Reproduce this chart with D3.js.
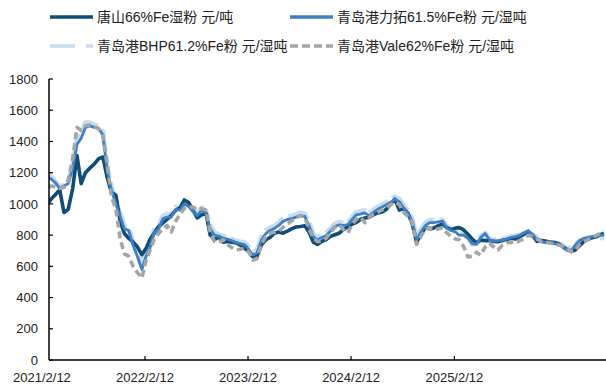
<!DOCTYPE html>
<html>
<head>
<meta charset="utf-8">
<script src="https://cdn.jsdelivr.net/npm/d3@7"></script>
<style>
  body { margin: 0; background: #fff; }
  text { font-family: "Liberation Sans", "Noto Sans CJK SC", sans-serif; }
</style>
</head>
<body>
<div class="chart"></div>
<script>
// semi-monthly observation dates
const dates = [
  "2021-03-09","2021-03-16","2021-04-01","2021-04-16","2021-05-01","2021-05-16","2021-06-01","2021-06-16",
  "2021-07-01","2021-07-16","2021-08-01","2021-08-16","2021-09-01","2021-09-16","2021-10-01","2021-10-16",
  "2021-11-01","2021-11-16","2021-12-01","2021-12-16",
  "2022-01-01","2022-01-16","2022-02-01","2022-02-16","2022-03-01","2022-03-16","2022-04-01","2022-04-16",
  "2022-05-01","2022-05-16","2022-06-01","2022-06-16","2022-07-01","2022-07-16","2022-08-01","2022-08-16",
  "2022-09-01","2022-09-16","2022-10-01","2022-10-16","2022-11-01","2022-11-16","2022-12-01","2022-12-16",
  "2023-01-01","2023-01-16","2023-02-01","2023-02-16","2023-03-01","2023-03-16","2023-04-01","2023-04-16",
  "2023-05-01","2023-05-16","2023-06-01","2023-06-16","2023-07-01","2023-07-16","2023-08-01","2023-08-16",
  "2023-09-01","2023-09-16","2023-10-01","2023-10-16","2023-11-01","2023-11-16","2023-12-01","2023-12-16",
  "2024-01-01","2024-01-16","2024-02-01","2024-02-16","2024-03-01","2024-03-16","2024-04-01","2024-04-16",
  "2024-05-01","2024-05-16","2024-06-01","2024-06-16","2024-07-01","2024-07-16","2024-08-01","2024-08-16",
  "2024-09-01","2024-09-16","2024-10-01","2024-10-16","2024-11-01","2024-11-16","2024-12-01","2024-12-16",
  "2025-01-01","2025-01-16","2025-02-01","2025-02-16","2025-03-01","2025-03-16","2025-04-01","2025-04-16",
  "2025-05-01","2025-05-16","2025-06-01","2025-06-16","2025-07-01","2025-07-16","2025-08-01","2025-08-16",
  "2025-09-01","2025-09-16","2025-10-01","2025-10-16","2025-11-01","2025-11-16","2025-12-01","2025-12-16",
  "2026-01-01","2026-01-16","2026-02-01","2026-02-16","2026-03-01","2026-03-16","2026-04-01","2026-04-16",
  "2026-05-01","2026-05-16","2026-06-01","2026-06-16","2026-07-01","2026-07-16","2026-07-27"
];

const tangshan = [
  1010,1030,1060,1090,945,965,1100,1310,1130,1200,1230,1255,1290,1300,1170,1075,1055,890,810,780,
  755,725,675,715,770,810,855,877,900,925,960,975,1025,1010,960,910,930,940,800,770,790,755,760,755,
  750,735,715,690,660,665,740,770,785,812,820,812,825,840,852,855,860,820,755,740,760,772,792,802,
  812,835,855,870,880,900,910,915,930,942,948,965,1000,1030,960,970,940,870,755,800,850,840,845,860,
  870,848,835,845,848,835,805,775,752,768,765,765,760,758,765,772,780,775,790,805,820,800,760,765,
  762,755,752,745,728,710,695,705,730,758,775,785,790,805,812
];
const rioTinto = [
  1165,1160,1135,1100,1115,1130,1230,1380,1420,1490,1500,1490,1485,1440,1215,1090,1000,920,840,830,
  735,665,580,665,715,815,838,905,915,915,965,960,1000,985,950,925,960,940,840,800,792,780,775,765,
  752,745,738,705,672,685,770,810,830,842,862,888,900,905,915,925,920,862,790,770,785,798,825,855,
  866,862,868,900,930,935,942,925,945,965,980,995,1010,1030,1015,975,940,885,770,820,860,880,880,885,
  890,845,828,820,800,800,780,745,740,785,810,770,762,764,770,775,785,790,798,815,830,800,775,760,
  752,750,748,740,730,705,700,735,765,778,785,790,795,800,800
];
const bhp = [
  1190,1175,1140,1108,1120,1140,1240,1420,1440,1520,1520,1505,1500,1460,1230,1110,1010,940,855,850,
  750,680,610,690,730,830,850,920,935,930,980,970,1005,990,960,942,975,950,860,815,802,795,785,775,
  762,756,752,720,690,700,790,830,845,858,880,905,915,922,932,942,935,880,805,785,800,812,840,870,
  882,878,880,915,945,950,958,940,960,980,995,1010,1025,1045,1030,990,955,900,790,835,875,895,895,898,
  895,855,840,830,805,810,790,740,755,790,812,775,770,770,775,782,790,795,800,810,815,805,782,760,
  756,756,750,745,737,710,720,740,760,775,782,788,790,785,780
];
const vale = [
  1105,1115,1110,1100,1105,1150,1290,1490,1470,1500,1505,1495,1480,1440,1260,1050,965,780,680,665,
  600,560,525,640,700,770,810,840,862,820,890,935,970,980,980,960,970,960,820,760,755,770,740,720,
  705,710,715,690,640,650,745,790,812,818,825,850,870,890,910,925,915,840,782,758,765,780,815,850,
  865,835,815,870,900,915,880,912,935,948,962,975,995,1010,995,945,920,880,740,790,840,845,832,840,
  845,814,790,775,770,730,660,665,690,672,724,748,725,705,735,750,755,750,765,775,800,790,775,760,
  756,750,745,737,730,715,695,700,740,760,770,785,800,812,815
];

const yTicks = [0,200,400,600,800,1000,1200,1400,1600,1800];
const xTickLabels = ["2021/2/12","2022/2/12","2023/2/12","2024/2/12","2025/2/12"];

const seriesNames = [
  "唐山66%Fe湿粉 元/吨",
  "青岛港力拓61.5%Fe粉 元/湿吨",
  "青岛港BHP61.2%Fe粉 元/湿吨",
  "青岛港Vale62%Fe粉 元/湿吨"
];

const W = 606, H = 385;
const plot = {left: 49, right: 604, top: 79, bottom: 360};

const parse = d3.timeParse("%Y-%m-%d");
const parseLabel = d3.timeParse("%Y/%m/%d");

const svg = d3.select('.chart')
  .append('svg')
  .attr('width', W)
  .attr('height', H);

const xScale = d3.scaleTime()
  .domain([parse(dates[0]), parse(dates[dates.length - 1])])
  .range([plot.left, plot.right]);

const yScale = d3.scaleLinear()
  .domain([0, 1800])
  .range([plot.bottom, plot.top]);

svg.append('defs').append('clipPath').attr('id', 'plotclip')
  .append('rect')
  .attr('x', plot.left).attr('y', 0)
  .attr('width', W - plot.left).attr('height', plot.bottom);

// series styles, drawn in this order
const series = [
  {name: seriesNames[2], values: bhp,      color: '#c5dcf1', width: 5,   dash: '22,5'},
  {name: seriesNames[0], values: tangshan, color: '#0e4d75', width: 3.6, dash: null},
  {name: seriesNames[1], values: rioTinto, color: '#3f80c4', width: 2.8, dash: null},
  {name: seriesNames[3], values: vale,     color: '#a5a5a5', width: 3.6, dash: '7,4'}
];

const line = d3.line()
  .x(d => xScale(d.date))
  .y(d => yScale(d.v));

const g = svg.append('g').attr('clip-path', 'url(#plotclip)');
series.forEach(s => {
  const pts = dates.map((d, i) => ({date: parse(d), v: s.values[i]}))
    .filter(p => p.v != null);
  g.append('path')
    .datum(pts)
    .attr('fill', 'none')
    .attr('stroke', s.color)
    .attr('stroke-width', s.width)
    .attr('stroke-linejoin', 'round')
    .attr('stroke-dasharray', s.dash)
    .attr('d', line);
});

// y axis
const yAxis = d3.axisLeft(yScale)
  .tickValues(yTicks)
  .tickFormat(d3.format('d'))
  .tickSize(0)
  .tickPadding(11);

const yg = svg.append('g')
  .attr('transform', `translate(${plot.left},0)`)
  .call(yAxis);
yg.select('.domain').remove();
yg.selectAll('text').attr('font-size', 13).attr('fill', '#222')
  .style('font-family', '"Liberation Sans", sans-serif');

svg.append('line')
  .attr('x1', plot.left).attr('x2', plot.left)
  .attr('y1', yScale(1800)).attr('y2', plot.bottom)
  .attr('stroke', '#000').attr('stroke-width', 1.5);

svg.selectAll('.ytick')
  .data(yTicks)
  .enter()
  .append('line')
  .attr('x1', plot.left).attr('x2', plot.left + 4)
  .attr('y1', d => yScale(d)).attr('y2', d => yScale(d))
  .attr('stroke', '#000').attr('stroke-width', 1.2);

// x axis
const xDates = xTickLabels.map(s => parseLabel(s));
svg.append('line')
  .attr('x1', plot.left).attr('x2', W)
  .attr('y1', plot.bottom).attr('y2', plot.bottom)
  .attr('stroke', '#000').attr('stroke-width', 1.5);

svg.selectAll('.xtick')
  .data(xDates.filter(d => xScale(d) > plot.left))
  .enter()
  .append('line')
  .attr('x1', d => xScale(d)).attr('x2', d => xScale(d))
  .attr('y1', plot.bottom).attr('y2', plot.bottom - 4)
  .attr('stroke', '#000').attr('stroke-width', 1.2);

svg.selectAll('.xlabel')
  .data(xTickLabels)
  .enter()
  .append('text')
  .attr('x', d => xScale(parseLabel(d)))
  .attr('y', 382)
  .attr('text-anchor', 'middle')
  .attr('font-size', 13)
  .attr('fill', '#222')
  .style('font-family', '"Liberation Sans", sans-serif')
  .text(d => d);

// legend
const legend = [
  {s: series[1], x: 50,  y: 17},
  {s: series[2], x: 290, y: 17},
  {s: series[0], x: 50,  y: 46},
  {s: series[3], x: 290, y: 46}
];
const legendDash = {};
legendDash[seriesNames[2]] = '25,11';
legendDash[seriesNames[3]] = '8,4';

legend.forEach(l => {
  svg.append('line')
    .attr('x1', l.x).attr('x2', l.x + 43)
    .attr('y1', l.y).attr('y2', l.y)
    .attr('stroke', l.s.color)
    .attr('stroke-width', 3.5)
    .attr('stroke-dasharray', legendDash[l.s.name] || null);
  svg.append('text')
    .attr('x', l.x + 47)
    .attr('y', l.y + 5)
    .attr('font-size', 14)
    .attr('fill', '#222')
    .text(l.s.name);
});
</script>
</body>
</html>
